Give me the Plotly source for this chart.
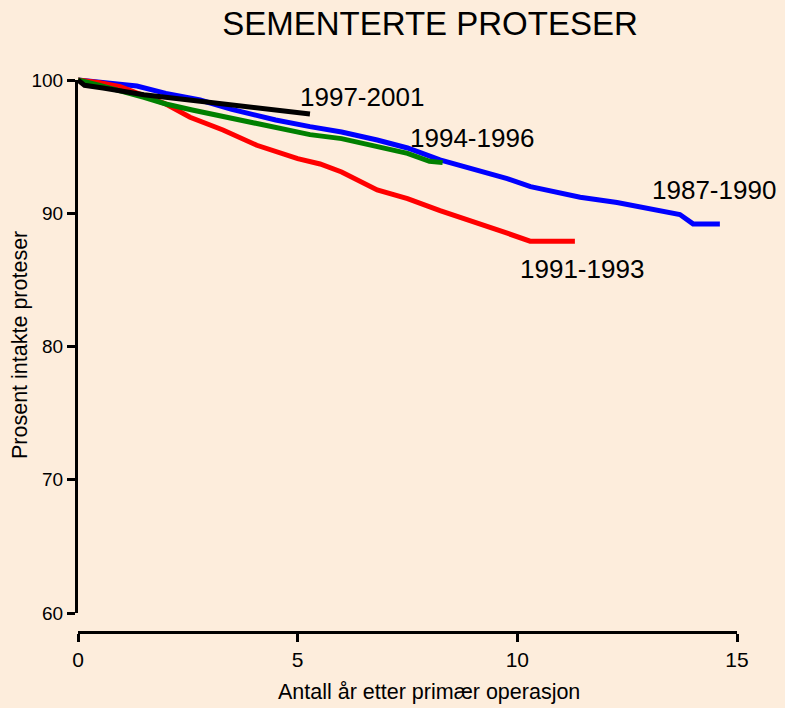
import plotly.graph_objects as go

# ---- data ----
x_8790 = [0, 0.5, 1.34, 2.0, 2.78, 3.5, 4.5, 5.28, 6.0, 6.81, 7.5, 8.24, 8.47, 9.0, 9.77, 10.3, 11.43, 12.27, 13.0, 13.7, 14.0, 14.61]
y_8790 = [100, 99.8, 99.55, 99.0, 98.5, 97.8, 97.0, 96.5, 96.1, 95.5, 94.9, 94.0, 93.8, 93.3, 92.6, 92.0, 91.2, 90.8, 90.3, 89.9, 89.2, 89.2]

x_9193 = [0, 0.5, 0.96, 1.5, 2.0, 2.55, 3.3, 4.07, 5.0, 5.51, 6.0, 6.81, 7.5, 8.24, 8.99, 9.77, 10.29, 11.31]
y_9193 = [100, 99.8, 99.5, 98.8, 98.2, 97.2, 96.25, 95.1, 94.1, 93.7, 93.1, 91.75, 91.1, 90.2, 89.4, 88.5, 87.9, 87.9]

x_9496 = [0, 0.5, 1.5, 2.0, 2.6, 4.0, 5.28, 6.0, 6.81, 7.5, 8.0, 8.3]
y_9496 = [100, 99.6, 98.7, 98.2, 97.75, 96.8, 95.9, 95.6, 95.0, 94.5, 93.9, 93.8]

x_9701 = [0, 0.15, 0.57, 1.5, 2.78, 4.0, 5.0, 5.28]
y_9701 = [100, 99.6, 99.4, 98.9, 98.4, 97.9, 97.55, 97.45]

series_names = ["1987-1990", "1991-1993", "1994-1996", "1997-2001"]
series_colors = ["#0000FF", "#FF0000", "#008000", "#000000"]
label_x = [13.02, 10.02, 7.52, 5.01]
label_y = [91.74, 85.78, 95.68, 98.69]

x_ticks = [0, 5, 10, 15]
y_ticks = [60, 70, 80, 90, 100]

title = "SEMENTERTE PROTESER"
x_title = "Antall år etter primær operasjon"
y_title = "Prosent intakte proteser"

# ---- figure ----
BG = "#FDEDDC"
FONT = "Liberation Sans, Arial, sans-serif"

fig = go.Figure()
xs = [x_8790, x_9193, x_9496, x_9701]
ys = [y_8790, y_9193, y_9496, y_9701]
for xv, yv, nm, col in zip(xs, ys, series_names, series_colors):
    fig.add_trace(go.Scatter(x=xv, y=yv, mode="lines", name=nm,
                             line=dict(color=col, width=5), showlegend=False))

# empty helper trace so the visible y axis (yaxis2) is drawn
fig.add_trace(go.Scatter(x=[None], y=[None], yaxis="y2", mode="lines",
                         showlegend=False, hoverinfo="skip"))

for nm, lx, ly in zip(series_names, label_x, label_y):
    fig.add_annotation(x=lx, y=ly, xref="x", yref="y", text=nm, showarrow=False,
                       xanchor="left", yanchor="middle",
                       font=dict(size=26, color="#000000", family=FONT))

W, H, L, R, T, B = 785, 708, 78, 48, 70, 76
pw = W - L - R
ph = H - T - B
y100 = (H - B - 80) / ph
y60 = (H - B - 613) / ph
top_val = 60 + 40 * (1 - y60) / (y100 - y60)

# axis titles placed where the reference has them
fig.add_annotation(x=(429 - L) / pw, y=(H - B - 692) / ph, xref="paper", yref="paper",
                   text=x_title, showarrow=False, xanchor="center", yanchor="middle",
                   font=dict(size=21.5, family=FONT, color="#000000"))
fig.add_annotation(x=(20 - L) / pw, y=(H - B - 345) / ph, xref="paper", yref="paper",
                   text=y_title, showarrow=False, xanchor="center", yanchor="middle",
                   textangle=-90, font=dict(size=21.5, family=FONT, color="#000000"))

fig.update_layout(
    width=W, height=H,
    paper_bgcolor=BG, plot_bgcolor="rgba(0,0,0,0)",
    margin=dict(l=L, r=R, t=T, b=B),
    title=dict(text=title, x=430 / W, xanchor="center", y=1 - 23 / H, yanchor="middle",
               font=dict(size=33, color="#000000", family=FONT)),
    xaxis=dict(range=[0, 15], domain=[0, 1], anchor="free", position=0,
               showline=True, linewidth=3, linecolor="#000000",
               ticks="outside", ticklen=8, tickwidth=3, tickcolor="#000000",
               tickvals=x_ticks, showgrid=False, zeroline=False,
               tickfont=dict(size=21, family=FONT, color="#000000")),
    yaxis=dict(range=[60, top_val], domain=[y60, 1], visible=False, fixedrange=True),
    yaxis2=dict(range=[60, 100], domain=[y60, y100], anchor="x",
                showline=True, linewidth=3, linecolor="#000000",
                ticks="outside", ticklen=8, tickwidth=3, tickcolor="#000000",
                tickvals=y_ticks, showgrid=False, zeroline=False,
                tickfont=dict(size=19, family=FONT, color="#000000")),
)

fig.write_html("out.html", config={"displayModeBar": False},
               post_script="document.body.style.margin='0';document.body.style.overflow='hidden';")
